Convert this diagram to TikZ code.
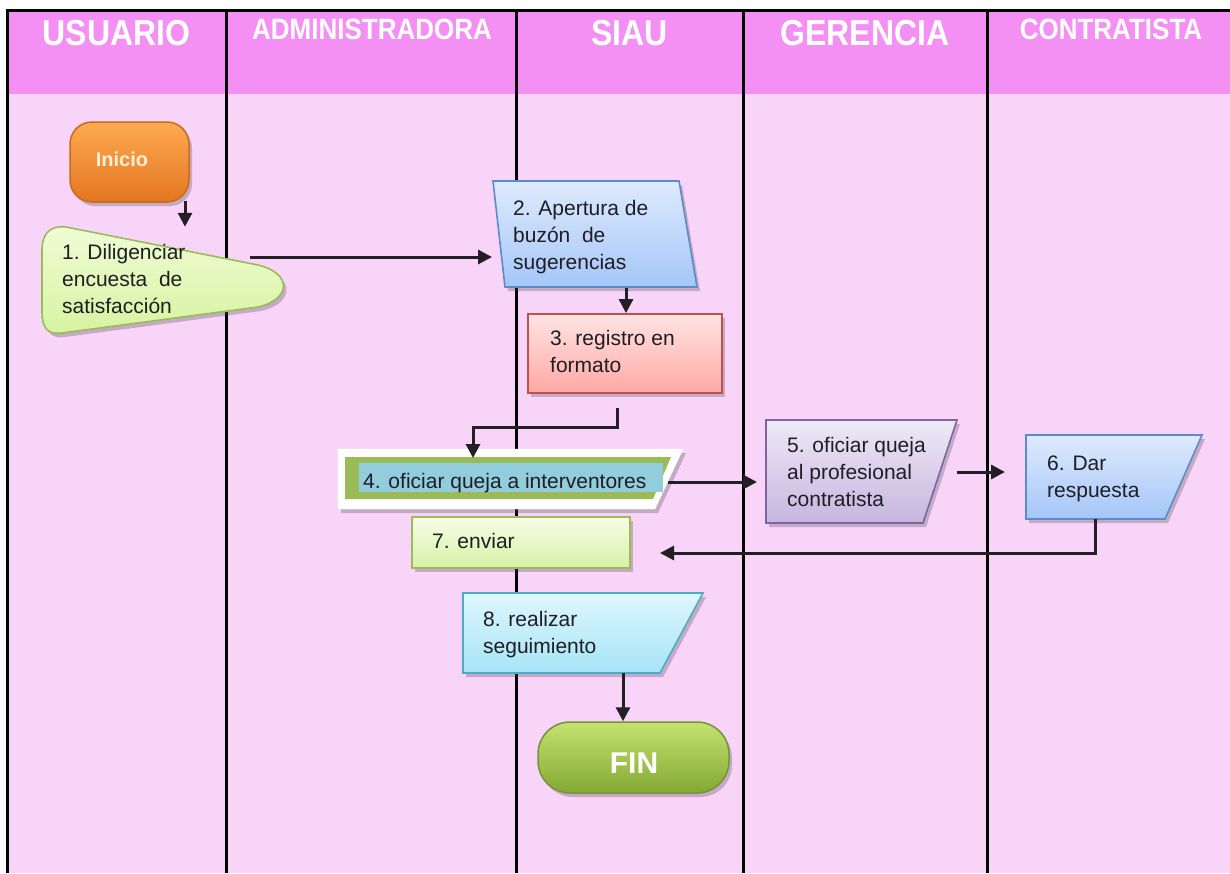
\documentclass[tikz,border=0pt]{standalone}
\usepackage{fontspec}
\setmainfont{Liberation Sans}
\usetikzlibrary{arrows.meta,shadows}

\definecolor{headpink}{HTML}{F490F4}
\definecolor{bodypink}{HTML}{F9D4F9}
\definecolor{inktext}{HTML}{1E1E24}
\definecolor{lineink}{HTML}{231F24}
\definecolor{orangeline}{HTML}{C96A1E}
\definecolor{orangetop}{HTML}{FFAA50}
\definecolor{orangebot}{HTML}{E27620}
\definecolor{inicioink}{HTML}{FFF0D7}
\definecolor{oliveline}{HTML}{9BBB59}
\definecolor{limetop}{HTML}{F0FCD6}
\definecolor{limebot}{HTML}{D6F3A0}
\definecolor{limetopb}{HTML}{F6FDE6}
\definecolor{limebotb}{HTML}{D6F2A6}
\definecolor{blueline}{HTML}{5B8CC8}
\definecolor{bluetop}{HTML}{DEEAFD}
\definecolor{bluebot}{HTML}{A5C6F8}
\definecolor{redline}{HTML}{C0504D}
\definecolor{redtop}{HTML}{FFE4E4}
\definecolor{redbot}{HTML}{FFA8A4}
\definecolor{aqua}{HTML}{92CDDD}
\definecolor{purpline}{HTML}{8064A2}
\definecolor{purptop}{HTML}{EEE9F6}
\definecolor{purpbot}{HTML}{C6B6DF}
\definecolor{cyanline}{HTML}{4BACC6}
\definecolor{cyantop}{HTML}{DFF7FE}
\definecolor{cyanbot}{HTML}{A6E4F7}
\definecolor{finline}{HTML}{76923C}
\definecolor{fintop}{HTML}{C4E26E}
\definecolor{finbot}{HTML}{84A834}

\begin{document}
\begin{tikzpicture}[x=1pt,y=-1pt,
  lane/.style={line width=3pt,black},
  flow/.style={line width=3pt,draw=lineink,-{Triangle[length=14pt,width=14pt]}},
  shade/.style={drop shadow={shadow xshift=3pt,shadow yshift=-4pt,opacity=0.3,fill=black!70}},
  % multi-line labels are placed by the baseline of their last line
  txt/.style={anchor=base west,inner sep=0pt,align=left,text=inktext,
    font=\fontsize{21}{27}\selectfont},
  head/.style={anchor=base,inner sep=0pt,text=white},
  bigh/.style={head,font=\bfseries\fontsize{32}{32}\selectfont},
  smallh/.style={head,font=\bfseries\fontsize{26}{26}\selectfont},
  term/.style={shade,draw,line width=1.5pt,rounded corners=22pt,inner sep=0pt}
]
\useasboundingbox (0,0) rectangle (1230,873);
\fill[white] (0,0) rectangle (1230,873);

% swimlane background
\fill[headpink] (7.5,10.5) rectangle (1230,94);
\fill[bodypink] (7.5,94) rectangle (1230,873);
\draw[lane] (226,10.5) -- (226,873);
\draw[lane] (516,10.5) -- (516,873);
\draw[lane] (743.5,10.5) -- (743.5,873);
\draw[lane] (987,10.5) -- (987,873);
\draw[lane] (7.5,873) -- (7.5,10.5) -- (1230,10.5);

% lane titles
\node[bigh] (hU) at (116.5,45) {\scalebox{1}[1.13]{USUARIO}};
\node[smallh] (hA) at (372,39) {\scalebox{1}[1.13]{ADMINISTRADORA}};
\node[bigh] (hS) at (629.5,45) {\scalebox{1}[1.13]{SIAU}};
\node[bigh] (hG) at (865,45) {\scalebox{1}[1.13]{GERENCIA}};
\node[smallh] (hC) at (1111,39) {\scalebox{1}[1.13]{CONTRATISTA}};

% start terminal
\node[term,draw=orangeline,top color=orangetop,bottom color=orangebot,
  minimum width=119pt,minimum height=80pt] (ini) at (129.5,162) {};
\node[inner sep=0pt,anchor=base,text=inicioink,
  font=\bfseries\fontsize{20}{20}\selectfont] (tini) at (122,166) {Inicio};

% 1. survey
\filldraw[shade,draw=oliveline,line width=1.6pt,top color=limetop,bottom color=limebot]
  (66,227) -- (258,265) .. controls (292,273) and (292,299) .. (258,307)
  -- (62,333) .. controls (47,335) and (42,327) .. (42,312) -- (42,250)
  .. controls (42,234) and (50,225) .. (66,227) -- cycle;
\node[txt] (t1) at (62,313) {1. Diligenciar\\encuesta\ \ de\\satisfacción};
\coordinate (o1) at (250,257);

% 2. mailbox opening
\filldraw[shade,draw=blueline,line width=1.6pt,top color=bluetop,bottom color=bluebot]
  (493,181) -- (679,181) -- (697,287) -- (505,287) -- cycle;
\node[txt] (t2) at (513,269) {2. Apertura de\\buzón\ \ de\\sugerencias};
\coordinate (i2) at (492,257);
\coordinate (o2) at (626,288);

% 3. record
\node[shade,draw=redline,line width=1.8pt,top color=redtop,bottom color=redbot,
  minimum width=194pt,minimum height=79pt,inner sep=0pt] (n3) at (625,353.5) {};
\node[txt] (t3) at (550,372) {3. registro en\\formato};

% 4. forward to auditors
\filldraw[shade,fill=white,draw=white] (338,449) -- (683,449) -- (655,509) -- (338,509) -- cycle;
\fill[oliveline] (345,457) -- (671,457) -- (653,499) -- (345,499) -- cycle;
\fill[aqua] (359,463) rectangle (663,492);
\node[txt] (t4) at (363,488) {4. oficiar queja a interventores};
\coordinate (i4) at (473,458);
\coordinate (o4) at (668,482);

% 5. forward to contractor
\filldraw[shade,draw=purpline,line width=1.6pt,top color=purptop,bottom color=purpbot]
  (766,420) -- (957,420) -- (923,523) -- (766,523) -- cycle;
\node[txt] (t5) at (787,506) {5. oficiar queja\\al profesional\\contratista};
\coordinate (i5) at (757,482);
\coordinate (o5) at (957,472);

% 6. reply
\filldraw[shade,draw=blueline,line width=1.6pt,top color=bluetop,bottom color=bluebot]
  (1026,435) -- (1202,435) -- (1165,519) -- (1026,519) -- cycle;
\node[txt] (t6) at (1047,497) {6. Dar\\respuesta};
\coordinate (i6) at (1005,472);
\coordinate (o6) at (1095,519);

% 7. send
\node[shade,draw=oliveline,line width=1.8pt,top color=limetopb,bottom color=limebotb,
  minimum width=218pt,minimum height=51pt,inner sep=0pt] (n7) at (521,542.5) {};
\node[txt] (t7) at (432,548) {7. enviar};
\coordinate (i7) at (660,553);

% 8. follow-up
\filldraw[shade,draw=cyanline,line width=1.6pt,top color=cyantop,bottom color=cyanbot]
  (463,593) -- (703,593) -- (660,673) -- (463,673) -- cycle;
\node[txt] (t8) at (483,653) {8. realizar\\seguimiento};
\coordinate (o8) at (623,673);

% end terminal
\node[term,draw=finline,rounded corners=32pt,top color=fintop,bottom color=finbot,
  minimum width=191pt,minimum height=71pt] (fin) at (633.5,757.5) {};
\node[inner sep=0pt,anchor=base,text=white,font=\bfseries\fontsize{30}{30}\selectfont]
  (tfin) at (634,773) {FIN};

% connectors
\draw[flow] ([xshift=55.5pt,yshift=2pt]ini.south) -- ++(0,26);
\draw[flow] (o1) -- (i2);
\draw[flow] (o2) -- ([xshift=1pt]n3.north);
\draw[flow] ([xshift=-8pt,yshift=-14pt]n3.south) -- ++(0,20) -| (i4);
\draw[flow] (o4) -- (i5);
\draw[flow] (o5) -- (i6);
\draw[flow] (o6) |- (i7);
\draw[flow] (o8) -- ([xshift=-10.5pt]fin.north);
\end{tikzpicture}
\end{document}
